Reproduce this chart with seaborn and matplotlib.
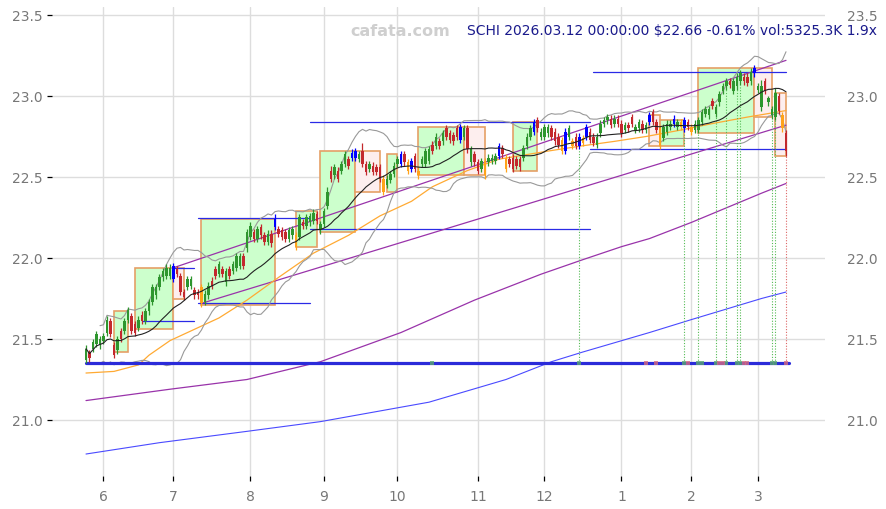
import numpy as np
import pandas as pd
import matplotlib
matplotlib.use("Agg")
import matplotlib.pyplot as plt
from matplotlib.patches import Rectangle
import seaborn as sns

TITLE = "SCHI 2026.03.12 00:00:00 $22.66 -0.61% vol:5325.3K 1.9x"
WATERMARK = "cafata.com"

# daily candles up to 2026-03-12
opens = [
    21.37, 21.42, 21.44, 21.47, 21.46, 21.49, 21.54, 21.61, 21.46, 21.43,
    21.55, 21.55, 21.62, 21.64, 21.59, 21.57, 21.65, 21.61, 21.67, 21.73,
    21.77, 21.82, 21.88, 21.89, 21.89, 21.87, 21.93, 21.89, 21.79, 21.82,
    21.83, 21.80, 21.79, 21.82, 21.73, 21.77, 21.86, 21.93, 21.90, 21.93,
    21.85, 21.93, 21.92, 21.94, 21.95, 22.01, 22.06, 22.13, 22.16, 22.12,
    22.19, 22.14, 22.10, 22.15, 22.19, 22.18, 22.17, 22.16, 22.12, 22.14,
    22.14, 22.13, 22.22, 22.20, 22.22, 22.23, 22.27, 22.17, 22.21, 22.32,
    22.54, 22.51, 22.54, 22.54, 22.58, 22.61, 22.62, 22.62, 22.61, 22.66,
    22.58, 22.55, 22.57, 22.56, 22.56, 22.49, 22.45, 22.48, 22.52, 22.58,
    22.58, 22.64, 22.59, 22.55, 22.63, 22.54, 22.58, 22.58, 22.60, 22.70,
    22.69, 22.72, 22.72, 22.80, 22.77, 22.76, 22.80, 22.73, 22.75, 22.80,
    22.59, 22.64, 22.59, 22.55, 22.60, 22.59, 22.60, 22.60, 22.63, 22.68,
    22.62, 22.61, 22.62, 22.61, 22.61, 22.62, 22.69, 22.75, 22.78, 22.85,
    22.75, 22.75, 22.77, 22.80, 22.78, 22.75, 22.73, 22.66, 22.75, 22.72,
    22.75, 22.69, 22.74, 22.75, 22.78, 22.75, 22.70, 22.77, 22.83, 22.85,
    22.86, 22.83, 22.86, 22.83, 22.79, 22.82, 22.87, 22.79, 22.80, 22.83,
    22.79, 22.84, 22.90, 22.84, 22.80, 22.74, 22.78, 22.81, 22.83, 22.81,
    22.84, 22.80, 22.84, 22.81, 22.79, 22.79, 22.84, 22.89, 22.88, 22.97,
    22.89, 22.96, 23.03, 23.06, 23.09, 23.03, 23.06, 23.09, 23.12, 23.12,
    23.09, 23.14, 23.04, 22.93, 23.09, 22.96, 22.88, 22.87, 23.00, 22.88,
    22.77,
]
highs = [
    21.46, 21.43, 21.50, 21.55, 21.52, 21.54, 21.64, 21.63, 21.48, 21.52,
    21.57, 21.63, 21.70, 21.66, 21.61, 21.64, 21.67, 21.69, 21.75, 21.84,
    21.84, 21.90, 21.94, 21.96, 21.96, 21.97, 21.95, 21.91, 21.81, 21.89,
    21.89, 21.82, 21.81, 21.84, 21.80, 21.85, 21.88, 21.95, 21.98, 21.95,
    21.94, 21.95, 21.98, 22.03, 22.03, 22.03, 22.18, 22.22, 22.18, 22.20,
    22.21, 22.16, 22.17, 22.17, 22.27, 22.20, 22.19, 22.18, 22.19, 22.20,
    22.16, 22.27, 22.24, 22.27, 22.28, 22.30, 22.29, 22.23, 22.31, 22.44,
    22.57, 22.58, 22.56, 22.60, 22.66, 22.63, 22.67, 22.68, 22.66, 22.71,
    22.60, 22.60, 22.59, 22.58, 22.58, 22.51, 22.51, 22.54, 22.59, 22.63,
    22.66, 22.66, 22.61, 22.62, 22.65, 22.56, 22.63, 22.68, 22.69, 22.72,
    22.77, 22.74, 22.79, 22.82, 22.79, 22.78, 22.82, 22.83, 22.82, 22.82,
    22.69, 22.66, 22.61, 22.62, 22.62, 22.64, 22.64, 22.65, 22.71, 22.70,
    22.64, 22.63, 22.64, 22.63, 22.63, 22.70, 22.77, 22.82, 22.86, 22.87,
    22.80, 22.83, 22.83, 22.82, 22.80, 22.77, 22.75, 22.80, 22.82, 22.74,
    22.77, 22.77, 22.76, 22.83, 22.80, 22.77, 22.77, 22.85, 22.87, 22.89,
    22.88, 22.88, 22.88, 22.85, 22.84, 22.84, 22.89, 22.83, 22.86, 22.85,
    22.84, 22.90, 22.92, 22.86, 22.82, 22.83, 22.85, 22.85, 22.88, 22.86,
    22.86, 22.87, 22.86, 22.83, 22.85, 22.87, 22.92, 22.94, 22.94, 22.99,
    22.95, 23.03, 23.08, 23.11, 23.11, 23.11, 23.14, 23.16, 23.14, 23.14,
    23.17, 23.19, 23.08, 23.10, 23.11, 23.00, 22.94, 23.05, 23.02, 22.90,
    22.79,
]
lows = [
    21.35, 21.36, 21.42, 21.45, 21.44, 21.47, 21.52, 21.51, 21.38, 21.41,
    21.48, 21.53, 21.60, 21.53, 21.52, 21.55, 21.59, 21.59, 21.65, 21.71,
    21.75, 21.80, 21.86, 21.87, 21.87, 21.85, 21.88, 21.77, 21.74, 21.80,
    21.81, 21.75, 21.75, 21.70, 21.71, 21.75, 21.81, 21.87, 21.88, 21.88,
    21.83, 21.87, 21.90, 21.92, 21.93, 21.93, 22.04, 22.11, 22.10, 22.10,
    22.12, 22.08, 22.08, 22.07, 22.17, 22.13, 22.11, 22.10, 22.10, 22.12,
    22.05, 22.11, 22.18, 22.18, 22.20, 22.21, 22.21, 22.15, 22.19, 22.30,
    22.47, 22.49, 22.47, 22.52, 22.56, 22.55, 22.60, 22.60, 22.59, 22.56,
    22.51, 22.53, 22.51, 22.51, 22.47, 22.39, 22.43, 22.46, 22.50, 22.56,
    22.56, 22.57, 22.52, 22.53, 22.53, 22.49, 22.56, 22.56, 22.58, 22.64,
    22.67, 22.67, 22.70, 22.73, 22.71, 22.70, 22.73, 22.71, 22.73, 22.65,
    22.57, 22.57, 22.52, 22.53, 22.49, 22.57, 22.58, 22.58, 22.61, 22.62,
    22.53, 22.56, 22.53, 22.55, 22.54, 22.60, 22.67, 22.73, 22.76, 22.78,
    22.73, 22.73, 22.75, 22.73, 22.70, 22.68, 22.64, 22.64, 22.73, 22.67,
    22.67, 22.67, 22.69, 22.73, 22.71, 22.69, 22.68, 22.75, 22.81, 22.83,
    22.80, 22.81, 22.81, 22.75, 22.77, 22.78, 22.81, 22.77, 22.78, 22.77,
    22.77, 22.82, 22.82, 22.77, 22.67, 22.72, 22.76, 22.79, 22.81, 22.79,
    22.79, 22.78, 22.79, 22.76, 22.77, 22.77, 22.82, 22.87, 22.86, 22.92,
    22.87, 22.94, 23.01, 23.04, 23.05, 23.01, 23.04, 23.07, 23.07, 23.06,
    23.07, 23.12, 23.02, 22.91, 23.01, 22.94, 22.86, 22.85, 22.89, 22.78,
    22.63,
]
closes = [
    21.44, 21.38, 21.48, 21.53, 21.50, 21.52, 21.62, 21.53, 21.40, 21.50,
    21.50, 21.61, 21.68, 21.55, 21.54, 21.62, 21.61, 21.67, 21.73, 21.82,
    21.82, 21.88, 21.92, 21.94, 21.94, 21.95, 21.90, 21.79, 21.76, 21.87,
    21.87, 21.77, 21.77, 21.72, 21.78, 21.83, 21.83, 21.89, 21.96, 21.90,
    21.92, 21.89, 21.96, 22.01, 22.01, 21.95, 22.16, 22.20, 22.12, 22.18,
    22.14, 22.10, 22.15, 22.09, 22.24, 22.15, 22.13, 22.12, 22.17, 22.18,
    22.07, 22.25, 22.20, 22.25, 22.26, 22.28, 22.23, 22.21, 22.29, 22.41,
    22.49, 22.56, 22.49, 22.58, 22.64, 22.57, 22.65, 22.66, 22.64, 22.58,
    22.53, 22.58, 22.53, 22.53, 22.49, 22.41, 22.49, 22.52, 22.57, 22.61,
    22.64, 22.59, 22.54, 22.60, 22.55, 22.51, 22.61, 22.66, 22.67, 22.66,
    22.75, 22.69, 22.77, 22.75, 22.73, 22.72, 22.75, 22.81, 22.80, 22.67,
    22.67, 22.59, 22.54, 22.60, 22.51, 22.62, 22.62, 22.63, 22.69, 22.64,
    22.55, 22.58, 22.55, 22.57, 22.56, 22.68, 22.75, 22.80, 22.84, 22.80,
    22.78, 22.81, 22.81, 22.75, 22.72, 22.70, 22.66, 22.78, 22.80, 22.69,
    22.69, 22.75, 22.71, 22.81, 22.73, 22.71, 22.75, 22.83, 22.85, 22.87,
    22.82, 22.86, 22.83, 22.77, 22.82, 22.80, 22.83, 22.81, 22.84, 22.79,
    22.82, 22.88, 22.84, 22.79, 22.69, 22.81, 22.83, 22.83, 22.86, 22.84,
    22.81, 22.85, 22.81, 22.78, 22.83, 22.85, 22.90, 22.92, 22.92, 22.94,
    22.93, 23.01, 23.06, 23.09, 23.07, 23.09, 23.12, 23.14, 23.09, 23.08,
    23.15, 23.17, 23.06, 23.06, 23.03, 22.99, 22.92, 23.02, 22.91, 22.80,
    22.66,
]

# candles drawn in special colours
blue_candles = [25, 54, 76, 77, 90, 93, 107, 118, 128, 137, 141, 143, 161, 168, 171, 191]
orange_candles = [33, 60, 85, 92, 95, 114, 120, 136, 139, 142, 164, 170, 173, 199]

# long curves (bar index, price)
orange_ma_idx = [0, 8, 15, 18, 24, 29, 38, 46, 55, 65, 75, 84, 93, 99, 109, 118, 132, 141, 151, 160, 170, 179, 189, 200]
orange_ma_val = [21.29, 21.30, 21.34, 21.40, 21.49, 21.54, 21.63, 21.74, 21.88, 22.03, 22.14, 22.26, 22.35, 22.44,
                 22.54, 22.61, 22.66, 22.69, 22.72, 22.75, 22.79, 22.83, 22.87, 22.91]
purple_curve_idx = [0, 24, 46, 67, 90, 111, 130, 142, 153, 161, 173, 193, 200]
purple_curve_val = [21.12, 21.19, 21.25, 21.36, 21.54, 21.74, 21.90, 21.99, 22.07, 22.12, 22.22, 22.40, 22.46]
blue_curve_idx = [0, 21, 46, 67, 98, 120, 133, 142, 161, 173, 193, 200]
blue_curve_val = [20.79, 20.86, 20.93, 20.99, 21.11, 21.25, 21.36, 21.42, 21.54, 21.62, 21.75, 21.79]

# channel lines (start idx, start price, end idx, end price)
channel_upper = (25, 21.94, 200, 23.22)
channel_lower = (33, 21.72, 200, 22.82)

# boxes: start idx, end idx, low, high, kind
boxes = [
    (8, 12, 21.42, 21.67, "up"), (14, 25, 21.56, 21.94, "up"), (25, 28, 21.75, 21.94, "down"),
    (33, 54, 21.71, 22.24, "up"), (60, 66, 22.07, 22.29, "up"), (67, 77, 22.16, 22.66, "up"),
    (77, 84, 22.41, 22.66, "down"), (86, 89, 22.41, 22.64, "up"), (95, 108, 22.51, 22.81, "up"),
    (108, 114, 22.51, 22.81, "down"), (122, 129, 22.54, 22.84, "up"), (161, 164, 22.69, 22.88, "down"),
    (164, 171, 22.69, 22.85, "up"), (175, 191, 22.77, 23.17, "up"), (191, 196, 22.87, 23.17, "down"),
    (197, 200, 22.63, 23.02, "down"),
]

# thin blue levels: start idx, end idx, price
levels = [
    (25, 31, 21.94), (16, 31, 21.61), (32, 64, 21.72), (32, 64, 22.25),
    (64, 144, 22.18), (64, 144, 22.84), (144, 200, 22.67), (145, 200, 23.15),
]
support = 21.35
signals_up = [99, 141, 171, 175, 176, 180, 183, 186, 187, 196, 197]
signals_down = [160, 163, 172, 181, 182, 188, 189, 200]
dotted_up = [141, 171, 175, 180, 183, 186, 187, 196, 197]
dotted_down = [200]

holidays = ["2025-05-26", "2025-06-19", "2025-07-04", "2025-09-01", "2025-11-27", "2025-12-25",
            "2026-01-01", "2026-01-19", "2026-02-16"]

sns.set_theme(style="whitegrid", rc={
    "grid.color": "#dddddd", "grid.linewidth": 1.0,
    "xtick.bottom": True, "ytick.left": True,
    "xtick.color": "black", "ytick.color": "black",
    "xtick.labelcolor": "#777777", "ytick.labelcolor": "#777777",
    "xtick.major.size": 3.5, "ytick.major.size": 3.5,
    "xtick.major.width": 0.9, "ytick.major.width": 0.9,
})
plt.rcParams["font.family"] = ["DejaVu Sans"]

n = len(closes)
dates = pd.bdate_range("2025-05-01", "2026-03-12")
dates = dates[~dates.isin(pd.to_datetime(holidays))][-n:]
x = np.arange(n)

df = pd.DataFrame({"open": opens, "high": highs, "low": lows, "close": closes}, index=x)
sma20 = df["close"].rolling(20, min_periods=1).mean()
std20 = df["close"].rolling(20, min_periods=5).std()
bb_up = sma20 + 2 * std20
bb_dn = sma20 - 2 * std20

fig = plt.figure(figsize=(8.87, 5.10), dpi=100)
ax = fig.add_axes([52 / 887, 1 - 477 / 510, (825 - 52) / 887, (477 - 8) / 510])

# boxes
for s, e, lo, hi, kind in boxes:
    fc = "#ccffcc" if kind == "up" else "#fdeeee"
    ax.add_patch(Rectangle((s, lo), e - s, hi - lo, facecolor=fc, edgecolor="#e5a066", lw=1.2, zorder=1))

# levels
for s, e, p in levels:
    ax.plot([s, e], [p, p], color="#2a2ae6", lw=0.9, zorder=2)

# long curves
sns.lineplot(x=blue_curve_idx, y=blue_curve_val, ax=ax, color="#4a4aff", lw=0.8, zorder=2)
sns.lineplot(x=purple_curve_idx, y=purple_curve_val, ax=ax, color="#9933aa", lw=0.9, zorder=2)
for s, ps, e, pe in (channel_upper, channel_lower):
    ax.plot([s, e], [ps, pe], color="#9933aa", lw=0.9, zorder=2)
sns.lineplot(x=orange_ma_idx, y=orange_ma_val, ax=ax, color="#ffaa33", lw=0.9, zorder=2)
sns.lineplot(x=x, y=bb_up.values, ax=ax, color="#999999", lw=0.8, zorder=2)
sns.lineplot(x=x, y=bb_dn.values, ax=ax, color="#999999", lw=0.8, zorder=2)
sns.lineplot(x=x, y=sma20.values, ax=ax, color="#222222", lw=0.8, zorder=4)

# support line and signals
ax.plot([0, n], [support, support], color="#2b2bd9", lw=2.3, zorder=3)
for i in dotted_up:
    ax.plot([i, i], [support, lows[i]], color="#55bb55", lw=0.8, ls=(0, (1, 1.5)), zorder=2)
for i in dotted_down:
    ax.plot([i, i], [support, lows[i]], color="#dd6666", lw=0.8, ls=(0, (1, 1.5)), zorder=2)
ax.scatter(signals_up, [support] * len(signals_up), marker="s", s=10, color="#5aa870", alpha=0.8, lw=0, zorder=5)
ax.scatter(signals_down, [support] * len(signals_down), marker="s", s=10, color="#d66a80", alpha=0.8, lw=0, zorder=5)

# candles
colors = []
for i in range(n):
    if i in blue_candles:
        colors.append("#0000ff")
    elif i in orange_candles:
        colors.append("#ffa31a")
    elif closes[i] >= opens[i]:
        colors.append("#2e962e")
    else:
        colors.append("#c3282d")
body_lo = np.minimum(df["open"], df["close"])
body_h = np.maximum(np.abs(df["close"] - df["open"]), 0.006)
ax.vlines(x, df["low"], df["high"], colors=colors, lw=0.9, zorder=3)
ax.bar(x, body_h, bottom=body_lo, width=0.72, color=colors, lw=0, zorder=3)

# axes cosmetics
ax.set_xlim((52 - 86) / 3.5, (825 - 86) / 3.5)
ax.set_ylim(23.5 - (477 - 16) / 162, 23.5 + 8 / 162)
yt = [21.0, 21.5, 22.0, 22.5, 23.0, 23.5]
ax.set_yticks(yt)
ax.set_yticklabels([f"{v:.1f}" for v in yt], fontsize=10)
month_pos = [i for i in range(1, n) if dates[i].month != dates[i - 1].month]
ax.set_xticks(month_pos)
ax.set_xticklabels([str(dates[i].month) for i in month_pos], fontsize=10)
ax.tick_params(axis="x", pad=6)
for sp in ax.spines.values():
    sp.set_visible(False)
ax.set_xlabel("")
ax.set_ylabel("")
if ax.get_legend():
    ax.get_legend().remove()

rax = ax.secondary_yaxis("right")
rax.set_yticks(yt)
rax.set_yticklabels([f"{v:.1f}" for v in yt], fontsize=10)
rax.tick_params(length=0, pad=16, labelcolor="#777777")
rax.spines["right"].set_visible(False)

fig.text(350 / 887, 1 - 31 / 510, WATERMARK, ha="left", va="center", color="#cfcfcf",
         fontsize=11.5, fontweight="bold")
fig.text(877 / 887, 1 - 31 / 510, TITLE, ha="right", va="center", color="#1a1a8c", fontsize=10)

fig.savefig("out.png", dpi=100)
